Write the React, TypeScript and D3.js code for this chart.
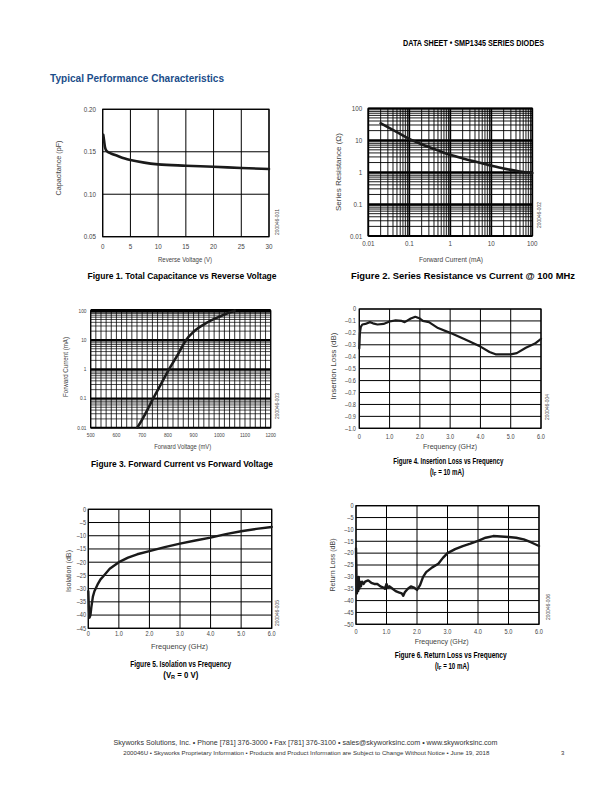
import React from 'react';
import * as d3 from 'd3';

// ---------- DATA ----------
const capVoltage = [0.1, 0.25, 0.4, 0.6, 1.0, 1.5, 2.5, 4, 5, 7.5, 10, 15, 20, 25, 30];
const capValue = [0.170, 0.163, 0.156, 0.152, 0.1495, 0.148, 0.1455, 0.142, 0.1403, 0.1372, 0.1352, 0.1336, 0.1324, 0.1309, 0.1297];
const capXTicks = [0, 5, 10, 15, 20, 25, 30];
const capYTicks = [0.05, 0.10, 0.15, 0.20];

const rsCurrent = [0.02, 0.05, 0.1, 0.2, 0.5, 1, 2, 5, 10, 20, 50, 100];
const rsValue = [34, 18, 11, 7.5, 4.8, 3.5, 2.7, 2.0, 1.6, 1.3, 1.05, 0.93];
const logTicks = [0.01, 0.1, 1, 10, 100];
const logTickLabels = ['0.01', '0.1', '1', '10', '100'];

const ifVoltage = [681, 700, 720, 743, 775, 805, 840, 871, 900, 950, 1000, 1030, 1060];
const ifCurrent = [0.01, 0.019, 0.04, 0.1, 0.33, 1, 3.3, 10, 19, 38, 62, 80, 100];
const vfTicks = [500, 600, 700, 800, 900, 1000, 1100, 1200];

const ilFreq = [0, 0.02, 0.05, 0.1, 0.2, 0.35, 0.45, 0.6, 0.8, 1.0, 1.2, 1.4, 1.5, 1.7, 1.85, 2.0, 2.1, 2.3, 2.6, 3.0, 3.5, 4.0, 4.3, 4.5, 5.0, 5.2, 5.5, 5.8, 6.0];
const ilValue = [-0.33, -0.2, -0.15, -0.13, -0.125, -0.11, -0.12, -0.13, -0.125, -0.105, -0.095, -0.1, -0.11, -0.08, -0.065, -0.08, -0.1, -0.11, -0.16, -0.2, -0.255, -0.315, -0.36, -0.38, -0.38, -0.37, -0.325, -0.29, -0.25];
const ilYTicks = [0, -0.1, -0.2, -0.3, -0.4, -0.5, -0.6, -0.7, -0.8, -0.9, -1.0];
const ilYLabels = ['0', '–0.1', '–0.2', '–0.3', '–0.4', '–0.5', '–0.6', '–0.7', '–0.8', '–0.9', '–1.0'];

const isoFreq = [0, 0.02, 0.04, 0.07, 0.1, 0.15, 0.2, 0.3, 0.4, 0.5, 0.7, 1.0, 1.3, 1.6, 2.0, 2.5, 3.0, 3.5, 4.0, 4.5, 5.0, 5.5, 6.0];
const isoValue = [-31, -38, -41, -40, -37, -33, -31, -28.5, -26.5, -25.2, -22.5, -20, -18.3, -17, -15.8, -14.3, -13, -11.8, -10.7, -9.4, -8.3, -7.4, -6.7];
const isoYTicks = [0, -5, -10, -15, -20, -25, -30, -35, -40, -45];

const rlFreq = [0, 0.01, 0.02, 0.03, 0.05, 0.07, 0.09, 0.11, 0.13, 0.16, 0.2, 0.25, 0.3, 0.4, 0.5, 0.6, 0.7, 0.8, 0.9, 0.95, 1.0, 1.05, 1.1, 1.2, 1.3, 1.4, 1.5, 1.55, 1.6, 1.7, 1.8, 1.9, 2.0, 2.1, 2.2, 2.3, 2.5, 2.7, 2.85, 3.0, 3.25, 3.5, 3.75, 4.0, 4.25, 4.5, 4.75, 5.0, 5.25, 5.5, 5.75, 6.0];
const rlValue = [-18, -25, -33, -37, -31, -36, -30, -35, -32, -34, -32, -33, -32, -31.5, -32.5, -33, -33, -34, -34.5, -35, -33, -34.5, -34, -35, -36, -36.5, -37, -38, -36.5, -35, -34, -34.5, -35.5, -33.5, -30, -28, -26, -24.5, -22, -20, -18.3, -17, -16, -14.8, -13.5, -12.8, -13, -13.2, -13.5, -14.2, -15.5, -17];
const rlYTicks = [0, -5, -10, -15, -20, -25, -30, -35, -40, -45, -50];

const freqTicks = [0, 1, 2, 3, 4, 5, 6];
const freqLabels = ['0', '1.0', '2.0', '3.0', '4.0', '5.0', '6.0'];

// ---------- helpers ----------
const NARROW = "'Liberation Sans Narrow', 'Arial Narrow', 'Liberation Sans', Arial, sans-serif";
const LABEL = '#444';

function logMinor(lo: number, hi: number): number[] {
  const out: number[] = [];
  for (let e = Math.round(Math.log10(lo)); e < Math.round(Math.log10(hi)); e++) {
    for (let k = 2; k <= 9; k++) out.push(k * Math.pow(10, e));
  }
  return out;
}

type PanelProps = {
  l: number; t: number; r: number; b: number;
  xLog?: boolean; yLog?: boolean;
  xDomain: [number, number]; yDomain: [number, number];
  xTicks: number[]; xLabels: string[]; yTicks: number[]; yLabels: string[];
  xGrid: number[]; yGrid: number[];
  xMinor?: number[]; yMinor?: number[];
  xs: number[]; ys: number[];
  smooth?: boolean; lineW?: number;
  tickFont: number; xTickY: number; yTickX: number; tickScale?: number;
  xTitle: string; xTitleX: number; xTitleY: number; xTitleLen: number;
  yTitle: string; yTitleX: number; yTitleY: number; yTitleLen: number; titleFont: number;
  idText: string; idX: number; idY: number;
  majorW?: number; gridW?: number; minorW?: number; topW?: number;
};

function Panel(p: PanelProps) {
  const xs = p.xLog ? d3.scaleLog().domain(p.xDomain).range([p.l, p.r]) : d3.scaleLinear().domain(p.xDomain).range([p.l, p.r]);
  const ys = p.yLog ? d3.scaleLog().domain(p.yDomain).range([p.b, p.t]) : d3.scaleLinear().domain(p.yDomain).range([p.b, p.t]);
  const pts: [number, number][] = p.xs.map((x, i) => [x, p.ys[i]]);
  const line = d3.line<[number, number]>()
    .x(d => xs(d[0]))
    .y(d => ys(d[1]))
    .curve(p.smooth ? d3.curveMonotoneX : d3.curveLinear);
  const mw = p.majorW ?? 1;
  const gw = p.gridW ?? mw;
  const nw = p.minorW ?? 0.8;
  const sc = p.tickScale ?? 0.85;
  return (
    <g>
      {(p.xMinor || []).map((v, i) => (
        <line key={'xm' + i} x1={xs(v)} x2={xs(v)} y1={p.t} y2={p.b} stroke="#000" strokeWidth={nw} />
      ))}
      {(p.yMinor || []).map((v, i) => (
        <line key={'ym' + i} x1={p.l} x2={p.r} y1={ys(v)} y2={ys(v)} stroke="#000" strokeWidth={nw} />
      ))}
      {p.xGrid.map((v, i) => (
        <line key={'xg' + i} x1={xs(v)} x2={xs(v)} y1={p.t} y2={p.b} stroke="#000" strokeWidth={gw} />
      ))}
      {p.yGrid.map((v, i) => (
        <line key={'yg' + i} x1={p.l} x2={p.r} y1={ys(v)} y2={ys(v)} stroke="#000" strokeWidth={mw} />
      ))}
      <rect x={p.l} y={p.t} width={p.r - p.l} height={p.b - p.t} fill="none" stroke="#000" strokeWidth={1.2} />
      {p.topW ? <line x1={p.l} x2={p.r} y1={p.t} y2={p.t} stroke="#000" strokeWidth={p.topW} /> : null}
      <path d={line(pts) || ''} fill="none" stroke="#1a1a1a" strokeWidth={p.lineW ?? 2.2} strokeLinejoin="round" strokeLinecap="round" />
      {p.xTicks.map((v, i) => (
        <text key={'xt' + i} transform={`translate(${xs(v)},${p.xTickY}) scale(${sc},1)`} textAnchor="middle" fontSize={p.tickFont} fill={LABEL} fontFamily={NARROW}>{p.xLabels[i]}</text>
      ))}
      {p.yTicks.map((v, i) => (
        <text key={'yt' + i} transform={`translate(${p.yTickX},${ys(v)}) scale(${sc},1)`} dy="0.35em" textAnchor="end" fontSize={p.tickFont} fill={LABEL} fontFamily={NARROW}>{p.yLabels[i]}</text>
      ))}
      <text x={p.xTitleX} y={p.xTitleY} textAnchor="middle" fontSize={p.titleFont} fill={LABEL} fontFamily={NARROW} textLength={p.xTitleLen} lengthAdjust="spacingAndGlyphs">{p.xTitle}</text>
      <text transform={`translate(${p.yTitleX},${p.yTitleY}) rotate(-90)`} textAnchor="middle" fontSize={p.titleFont} fill={LABEL} fontFamily={NARROW} textLength={p.yTitleLen} lengthAdjust="spacingAndGlyphs">{p.yTitle}</text>
      <text transform={`translate(${p.idX},${p.idY}) rotate(-90)`} textAnchor="middle" fontSize={5.8} fill={LABEL} fontFamily={NARROW} textLength={26} lengthAdjust="spacingAndGlyphs">{p.idText}</text>
    </g>
  );
}

function Caption({ x, y, len, children }: { x: number; y: number; len: number; children: React.ReactNode }) {
  return (
    <text x={x} y={y} textAnchor="middle" fontSize={8.5} fontWeight="bold" fontFamily={NARROW} fill="#000" textLength={len} lengthAdjust="spacingAndGlyphs">{children}</text>
  );
}

export default function App() {
  const fmt2 = (v: number) => v.toFixed(2);
  return (
    <svg width={612} height={792} viewBox="0 0 612 792" style={{ position: 'absolute', left: 0, top: 0, background: '#fff' }}>
      <rect x={0} y={0} width={612} height={792} fill="#fff" />
      {/* header */}
      <text x={544} y={46} textAnchor="end" fontSize={8.2} fontWeight="bold" fontFamily={NARROW} fill="#000" textLength={141} lengthAdjust="spacingAndGlyphs">DATA SHEET  •  SMP1345 SERIES DIODES</text>
      <text x={50} y={81.5} fontSize={11.5} fontWeight="bold" fontFamily={NARROW} fill="#1b4d8a" textLength={174} lengthAdjust="spacingAndGlyphs">Typical Performance Characteristics</text>

      {/* Figure 1 */}
      <Panel l={102.7} t={109.3} r={269} b={236.7}
        xDomain={[0, 30]} yDomain={[0.05, 0.20]}
        xTicks={capXTicks} xLabels={capXTicks.map(String)}
        yTicks={capYTicks} yLabels={capYTicks.map(fmt2)}
        xGrid={capXTicks} yGrid={capYTicks}
        xs={capVoltage} ys={capValue} smooth lineW={2.6}
        tickFont={7.4} xTickY={248.5} yTickX={96}
        xTitle="Reverse Voltage (V)" xTitleX={185} xTitleY={261.5} xTitleLen={54}
        yTitle="Capacitance (pF)" yTitleX={61} yTitleY={168} yTitleLen={55} titleFont={7.5}
        idText="200046-001" idX={279} idY={222} />
      <Caption x={182} y={279} len={189}>Figure 1. Total Capacitance vs Reverse Voltage</Caption>

      {/* Figure 2 */}
      <Panel l={368.3} t={108.3} r={532.3} b={236}
        xLog yLog xDomain={[0.01, 100]} yDomain={[0.01, 100]}
        xTicks={logTicks} xLabels={logTickLabels}
        yTicks={logTicks} yLabels={logTickLabels}
        xGrid={logTicks} yGrid={logTicks}
        xMinor={logMinor(0.01, 100)} yMinor={logMinor(0.01, 100)}
        majorW={1.8} minorW={0.9}
        xs={rsCurrent} ys={rsValue} smooth lineW={2.6}
        tickFont={7.4} xTickY={245.5} yTickX={362.3}
        xTitle="Forward Current (mA)" xTitleX={451} xTitleY={261.5} xTitleLen={64}
        yTitle="Series Resistance (Ω)" yTitleX={341} yTitleY={172} yTitleLen={78} titleFont={7.5}
        idText="200046-002" idX={541} idY={215} />
      <Caption x={463} y={279} len={224}>Figure 2. Series Resistance vs Current @ 100 MHz</Caption>

      {/* Figure 3 */}
      <Panel l={90.7} t={310.7} r={270.7} b={427.7}
        yLog xDomain={[500, 1200]} yDomain={[0.01, 100]}
        xTicks={vfTicks} xLabels={vfTicks.map(String)}
        yTicks={logTicks} yLabels={logTickLabels}
        xGrid={d3.range(500, 1201, 20)} yGrid={logTicks}
        yMinor={logMinor(0.01, 100)}
        majorW={2} gridW={0.8} minorW={0.7} topW={3.5}
        xs={ifVoltage} ys={ifCurrent} smooth lineW={2.6}
        tickFont={5.6} xTickY={437} yTickX={86.5}
        xTitle="Forward Voltage (mV)" xTitleX={182.7} xTitleY={449} xTitleLen={57}
        yTitle="Forward Current (mA)" yTitleX={68} yTitleY={367} yTitleLen={60} titleFont={7}
        idText="200046-003" idX={279} idY={406} />
      <Caption x={182} y={467} len={182}>Figure 3. Forward Current vs Forward Voltage</Caption>

      {/* Figure 4 */}
      <Panel l={359.3} t={309} r={541} b={428.3}
        xDomain={[0, 6]} yDomain={[-1.0, 0]}
        xTicks={freqTicks} xLabels={freqLabels}
        yTicks={ilYTicks} yLabels={ilYLabels}
        xGrid={freqTicks} yGrid={ilYTicks}
        xs={ilFreq} ys={ilValue} lineW={2.2}
        tickFont={6.6} xTickY={438.5} yTickX={356}
        xTitle="Frequency (GHz)" xTitleX={450} xTitleY={448.5} xTitleLen={54}
        yTitle="Insertion Loss (dB)" yTitleX={336} yTitleY={366} yTitleLen={67} titleFont={7.5}
        idText="200046-004" idX={548.5} idY={407} />
      <Caption x={448.3} y={463.5} len={110}>Figure 4. Insertion Loss vs Frequency</Caption>
      <Caption x={447} y={474.5} len={34}>(I<tspan fontSize={6} dy={1}>F</tspan><tspan dy={-1}> = 10 mA)</tspan></Caption>

      {/* Figure 5 */}
      <Panel l={88.3} t={509.3} r={271.7} b={628.3}
        xDomain={[0, 6]} yDomain={[-45, 0]}
        xTicks={freqTicks} xLabels={freqLabels}
        yTicks={isoYTicks} yLabels={isoYTicks.map(v => (v === 0 ? '0' : '–' + Math.abs(v)))}
        xGrid={freqTicks} yGrid={isoYTicks}
        xs={isoFreq} ys={isoValue} lineW={2.4}
        tickFont={6.6} xTickY={635.5} yTickX={86}
        xTitle="Frequency (GHz)" xTitleX={179.5} xTitleY={648.5} xTitleLen={57}
        yTitle="Isolation (dB)" yTitleX={70.5} yTitleY={571} yTitleLen={42} titleFont={7.5}
        idText="200046-005" idX={279} idY={613} />
      <Caption x={180.7} y={666.5} len={101}>Figure 5. Isolation vs Frequency</Caption>
      <Caption x={180.8} y={677.5} len={35}>(V<tspan fontSize={6} dy={1}>R</tspan><tspan dy={-1}> = 0 V)</tspan></Caption>

      {/* Figure 6 */}
      <Panel l={356} t={505.7} r={539} b={624.3}
        xDomain={[0, 6]} yDomain={[-50, 0]}
        xTicks={freqTicks} xLabels={freqLabels}
        yTicks={rlYTicks} yLabels={rlYTicks.map(v => (v === 0 ? '0' : '–' + Math.abs(v)))}
        xGrid={freqTicks} yGrid={rlYTicks}
        xs={rlFreq} ys={rlValue} lineW={2.4}
        tickFont={6.6} xTickY={633.5} yTickX={353.5}
        xTitle="Frequency (GHz)" xTitleX={441.7} xTitleY={643.5} xTitleLen={54}
        yTitle="Return Loss (dB)" yTitleX={335} yTitleY={565} yTitleLen={53} titleFont={7.5}
        idText="200046-006" idX={549.5} idY={607} />
      <Caption x={450.7} y={658} len={112}>Figure 6. Return Loss vs Frequency</Caption>
      <Caption x={452} y={668.7} len={34}>(I<tspan fontSize={6} dy={1}>F</tspan><tspan dy={-1}> = 10 mA)</tspan></Caption>

      {/* footer */}
      <text x={305.5} y={745} textAnchor="middle" fontSize={7} fontFamily={NARROW} fill="#333" textLength={384} lengthAdjust="spacingAndGlyphs">Skyworks Solutions, Inc.  •  Phone [781] 376-3000  •  Fax [781] 376-3100  •  sales@skyworksinc.com  •  www.skyworksinc.com</text>
      <text x={306.3} y={754.5} textAnchor="middle" fontSize={5.6} fontFamily={NARROW} fill="#333" textLength={366} lengthAdjust="spacingAndGlyphs">200046U  •  Skyworks Proprietary Information  •  Products and Product Information are Subject to Change Without Notice  •  June 19, 2018</text>
      <text x={561} y={754.5} fontSize={6} fontFamily={NARROW} fill="#333">3</text>
    </svg>
  );
}
